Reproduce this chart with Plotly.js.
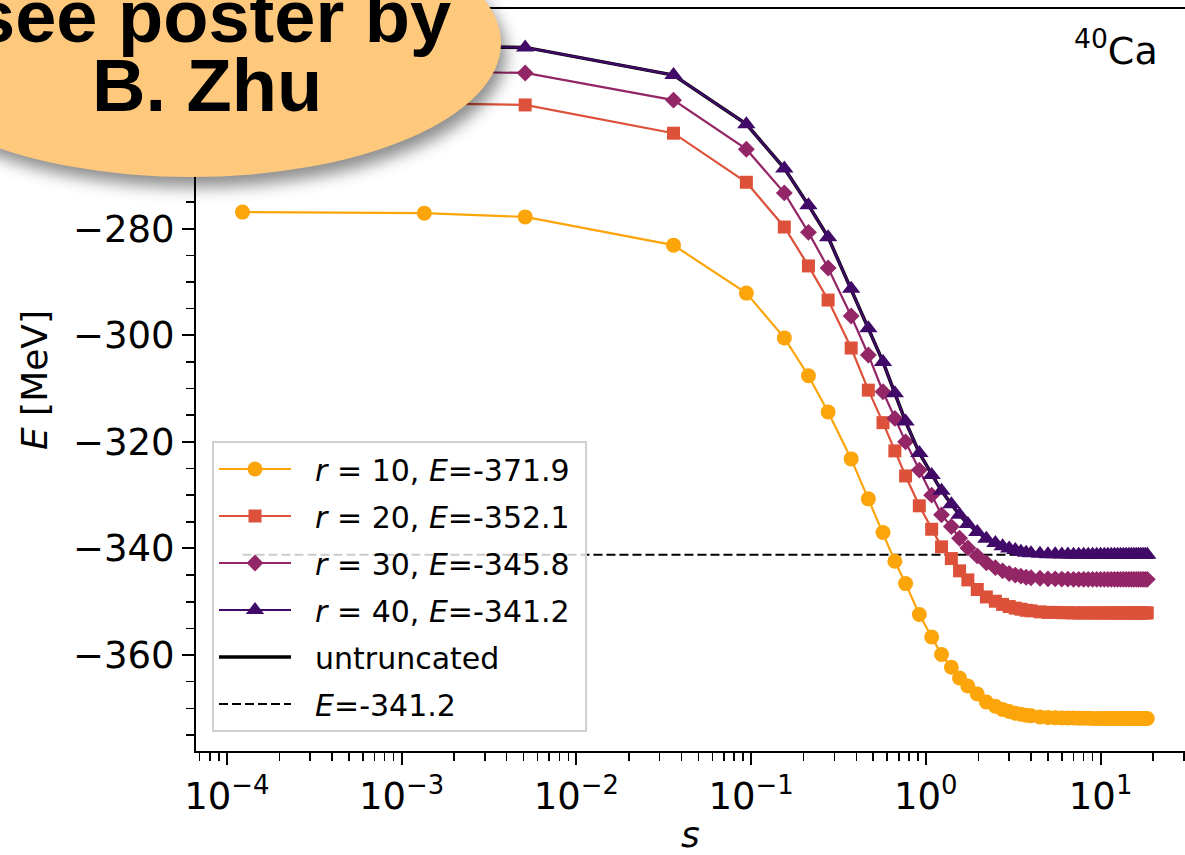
<!DOCTYPE html>
<html>
<head>
<meta charset="utf-8">
<script src="https://cdn.plot.ly/plotly-3.0.1.min.js"></script>
<style>html,body{margin:0;padding:0;background:#fff;}#chart{width:1185px;height:855px;}</style>
</head>
<body>
<div id="chart"></div>
<script>
// flow parameter s (shared grid for all runs)
const s = [0.000123, 0.00135, 0.0051, 0.036, 0.094, 0.155, 0.213, 0.276, 0.374, 0.469, 0.569, 0.665, 0.766, 0.918, 1.08, 1.23, 1.40, 1.56, 1.74, 1.97, 2.22,
  2.5, 2.75, 3.0, 3.25, 3.5, 3.75, 4.0,
  4.5, 5.0, 5.5, 6.0, 6.5, 7.0, 7.5, 8.0, 8.5, 9.0, 9.5, 10.0, 10.5, 11.0, 11.5, 12.0, 12.5, 13.0, 13.5, 14.0, 14.5, 15.0, 15.5, 16.0, 16.5, 17.0, 17.5, 18.0, 18.5];

const E_r10 = [-276.9, -277.1, -277.8, -283.1, -292.1, -300.5, -307.6, -314.4, -323.2, -330.7, -337.0, -342.4, -346.6, -352.4, -356.6, -359.9, -362.3, -364.3, -365.8, -367.3, -368.8,
  -369.6, -370.2, -370.6, -370.9, -371.1, -371.3, -371.4,
  -371.6, -371.7, -371.75, -371.8, -371.8, -371.8, -371.85, -371.85, -371.85, -371.9, -371.9, -371.9, -371.9, -371.9, -371.9, -371.9, -371.9, -371.9, -371.9, -371.9, -371.9, -371.9, -371.9, -371.9, -371.9, -371.9, -371.9, -371.9, -371.9];

const E_r20 = [-256.3, -256.5, -256.8, -262.1, -271.3, -279.7, -287.0, -293.4, -302.4, -310.3, -316.4, -321.7, -326.4, -332.0, -336.4, -339.7, -341.9, -344.2, -345.9, -347.7, -349.1,
  -349.9, -350.5, -350.9, -351.2, -351.4, -351.6, -351.7,
  -351.9, -352.0, -352.0, -352.05, -352.05, -352.1, -352.1, -352.1, -352.1, -352.1, -352.1, -352.1, -352.1, -352.1, -352.1, -352.1, -352.1, -352.1, -352.1, -352.1, -352.1, -352.1, -352.1, -352.1, -352.1, -352.1, -352.1, -352.1, -352.1];

const E_r30 = [-250.3, -250.5, -250.8, -255.9, -265.1, -273.3, -280.7, -287.4, -296.4, -303.7, -310.6, -315.6, -320.0, -325.3, -330.0, -333.7, -335.9, -338.1, -339.9, -341.4, -342.7,
  -343.6, -344.2, -344.7, -345.0, -345.2, -345.4, -345.5,
  -345.6, -345.7, -345.7, -345.75, -345.75, -345.8, -345.8, -345.8, -345.8, -345.8, -345.8, -345.8, -345.8, -345.8, -345.8, -345.8, -345.8, -345.8, -345.8, -345.8, -345.8, -345.8, -345.8, -345.8, -345.8, -345.8, -345.8, -345.8, -345.8];

const E_r40 = [-245.8, -245.9, -246.0, -251.2, -260.4, -268.7, -275.6, -281.6, -291.3, -298.7, -305.0, -310.9, -316.2, -322.1, -326.2, -329.2, -331.7, -333.7, -335.4, -336.9, -338.2,
  -339.0, -339.6, -340.0, -340.3, -340.6, -340.8, -340.9,
  -341.0, -341.1, -341.1, -341.15, -341.15, -341.2, -341.2, -341.2, -341.2, -341.2, -341.2, -341.2, -341.2, -341.2, -341.2, -341.2, -341.2, -341.2, -341.2, -341.2, -341.2, -341.2, -341.2, -341.2, -341.2, -341.2, -341.2, -341.2, -341.2];

const E_untruncated = [-245.8, -245.9, -246.0, -251.2, -260.4, -268.7, -275.6, -281.6, -291.3, -298.7, -305.0, -310.9, -316.2, -322.1, -326.2, -329.2, -331.7, -333.7, -335.4, -336.9, -338.2,
  -339.0, -339.6, -340.0, -340.3, -340.6, -340.8, -340.9,
  -341.0, -341.1, -341.1, -341.15, -341.15, -341.2, -341.2, -341.2, -341.2, -341.2, -341.2, -341.2, -341.2, -341.2, -341.2, -341.2, -341.2, -341.2, -341.2, -341.2, -341.2, -341.2, -341.2, -341.2, -341.2, -341.2, -341.2, -341.2, -341.2];

const s_ref = [0.000123, 18.5];
const E_ref = [-341.2, -341.2];

const seriesNames = ['<i>r</i> = 10, <i>E</i>=-371.9', '<i>r</i> = 20, <i>E</i>=-352.1', '<i>r</i> = 30, <i>E</i>=-345.8', '<i>r</i> = 40, <i>E</i>=-341.2', 'untruncated', '<i>E</i>=-341.2'];
const xTickVals = [1e-4, 1e-3, 1e-2, 1e-1, 1, 10];
const xTickText = ['10<sup>−4</sup>', '10<sup>−3</sup>', '10<sup>−2</sup>', '10<sup>−1</sup>', '10<sup>0</sup>', '10<sup>1</sup>'];
const yTickVals = [-360, -340, -320, -300, -280, -260, -240];

// minor tick positions on log axis
const minorX = [];
for (let e = -5; e <= 1; e++) for (let m = 2; m <= 9; m++) minorX.push(m * Math.pow(10, e));

const colors = ['#FCA50A', '#DD513A', '#932667', '#420A68'];
const FONT = 'DejaVu Sans, sans-serif';
const GAP = '\u00a0\u00a0';
function lbl(t){ return GAP + t + '\u00a0'; }

function px2x(px){ return (px - 196) / 989; }
function px2y(py){ return 1 - (py - 9) / 742; }

const traces = [
  {x: s_ref, y: E_ref, mode: 'lines', name: lbl(seriesNames[5]), legendrank: 6, legendgroup: 'g6',
   line: {color: 'black', width: 2, dash: '9px,4px'}},
  {x: s, y: E_r10, mode: 'lines+markers', name: lbl(seriesNames[0]), legendrank: 1, legendgroup: 'g1',
   line: {color: colors[0], width: 2.2}, marker: {symbol: 'circle', size: 15, color: colors[0]}},
  {x: s, y: E_r20, mode: 'lines+markers', name: lbl(seriesNames[1]), legendrank: 2, legendgroup: 'g2',
   line: {color: colors[1], width: 2.2}, marker: {symbol: 'square', size: 13, color: colors[1]}},
  {x: s, y: E_r30, mode: 'lines+markers', name: lbl(seriesNames[2]), legendrank: 3, legendgroup: 'g3',
   line: {color: colors[2], width: 2.2}, marker: {symbol: 'diamond', size: 13, color: colors[2]}},
  {x: s, y: E_untruncated, mode: 'lines', name: lbl(seriesNames[4]), legendrank: 5, legendgroup: 'g5',
   line: {color: 'black', width: 3.5}},
  {x: s, y: E_r40, mode: 'lines+markers', name: lbl(seriesNames[3]), legendrank: 4, legendgroup: 'g4',
   line: {color: colors[3], width: 2.2}, marker: {symbol: 'triangle-up', size: 16, color: colors[3]}}
];

const layout = {
  width: 1185, height: 855,
  margin: {l: 196, r: 0, t: 9, b: 104},
  paper_bgcolor: 'white', plot_bgcolor: 'white',
  font: {family: FONT, color: 'black'},
  showlegend: true,
  xaxis: {
    type: 'log', range: [-4.176, 1.483], autorange: false,
    showgrid: false, zeroline: false,
    showline: true, linecolor: 'black', linewidth: 2, mirror: true,
    ticks: 'outside', ticklen: 12, tickwidth: 2, tickcolor: 'black',
    tickvals: xTickVals, ticktext: xTickText,
    tickfont: {family: FONT, size: 37, color: 'black'},
    minor: {tickvals: minorX, ticks: 'outside', ticklen: 8, tickwidth: 1.5, tickcolor: 'black', showgrid: false},
    title: {text: '<i>s</i>', font: {family: FONT, size: 36, color: 'black'}, standoff: 12},
    automargin: false
  },
  yaxis: {
    range: [-378.0, -238.8], autorange: false,
    showgrid: false, zeroline: false,
    showline: true, linecolor: 'black', linewidth: 2, mirror: false,
    ticks: 'outside', ticklen: 12, tickwidth: 2, tickcolor: 'black',
    tickvals: yTickVals,
    tickfont: {family: FONT, size: 37, color: 'black'},
    minor: {dtick: 5, tick0: 0, ticks: 'outside', ticklen: 8, tickwidth: 1.5, tickcolor: 'black', showgrid: false},
    title: {text: '<i>E</i> [MeV]', font: {family: FONT, size: 36, color: 'black'}, standoff: 14},
    automargin: false
  },
  legend: {
    x: px2x(212), y: px2y(441), xanchor: 'left', yanchor: 'top',
    bgcolor: 'rgba(255,255,255,0.8)', bordercolor: '#d0d0d0', borderwidth: 2,
    font: {family: FONT, size: 30, color: 'black'},
    traceorder: 'grouped', tracegroupgap: 5, itemwidth: 72, itemsizing: 'trace'
  },
  shapes: [
    {type: 'circle', xref: 'paper', yref: 'paper', layer: 'above',
     x0: px2x(-119), x1: px2x(501), y0: px2y(177), y1: px2y(-91),
     fillcolor: '#FEC97C', line: {width: 0}}
  ],
  annotations: [
    {xref: 'paper', yref: 'paper', x: px2x(212), y: px2y(17), xanchor: 'center', yanchor: 'middle', showarrow: false,
     text: 'see poster by', font: {family: 'Liberation Sans, Arial, sans-serif', size: 74, weight: 700, color: 'black'}},
    {xref: 'paper', yref: 'paper', x: px2x(207), y: px2y(86), xanchor: 'center', yanchor: 'middle', showarrow: false,
     text: 'B. Zhu', font: {family: 'Liberation Sans, Arial, sans-serif', size: 74, weight: 700, color: 'black'}},
    {xref: 'paper', yref: 'paper', x: px2x(1160), y: px2y(75), xanchor: 'right', yanchor: 'bottom', showarrow: false,
     text: '<sup>40</sup>Ca', font: {family: FONT, size: 38, color: 'black'}}
  ]
};

Plotly.newPlot('chart', traces, layout, {displayModeBar: false, staticPlot: true}).then(function(){
  const p = document.querySelector('.shapelayer path');
  if (p) p.style.filter = 'drop-shadow(5px 10px 8px rgba(0,0,0,0.45))';
});
</script>
</body>
</html>
